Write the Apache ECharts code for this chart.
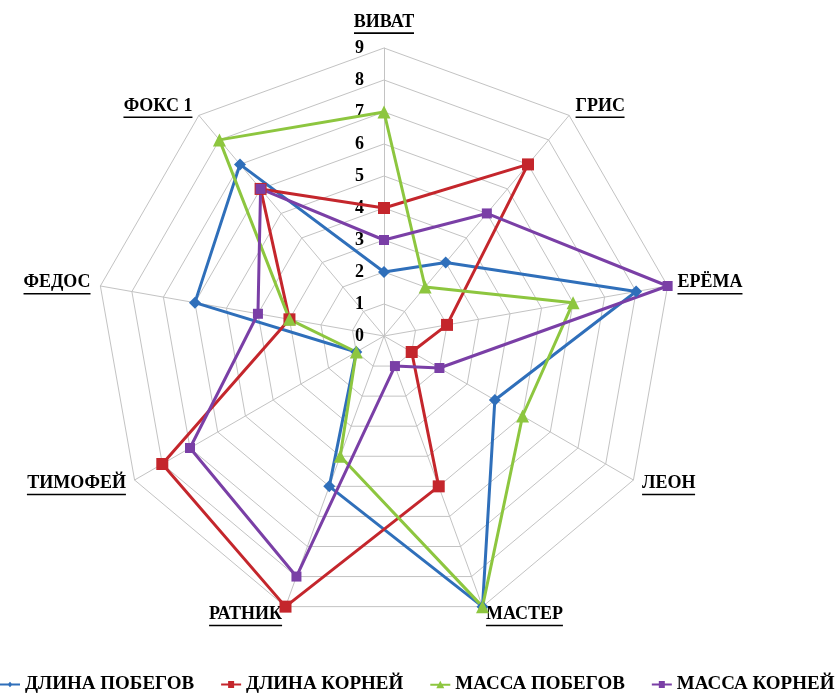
<!DOCTYPE html>
<html>
<head>
<meta charset="utf-8">
<script src="https://cdn.jsdelivr.net/npm/echarts@6/dist/echarts.min.js"></script>
<style>
  html, body { margin: 0; padding: 0; background: #fff; }
  #main { width: 840px; height: 694px; }
</style>
</head>
<body>
<div id="main"></div>
<script>
// сорта (по часовой стрелке от верха)
var categories = ['ВИВАТ', 'ГРИС', 'ЕРЁМА', 'ЛЕОН', 'МАСТЕР', 'РАТНИК', 'ТИМОФЕЙ', 'ФЕДОС', 'ФОКС 1'];
var tickLabels = ['0', '1', '2', '3', '4', '5', '6', '7', '8', '9'];
var seriesNames = ['ДЛИНА ПОБЕГОВ', 'ДЛИНА КОРНЕЙ', 'МАССА ПОБЕГОВ', 'МАССА КОРНЕЙ'];
var shootLength = [2, 3, 8, 4, 9, 5, 1, 6, 7];
var rootLength  = [4, 7, 2, 1, 5, 9, 8, 3, 6];
var shootMass   = [7, 2, 6, 5, 9, 4, 1, 3, 8];
var rootMass    = [3, 5, 9, 2, 1, 8, 7, 4, 6];

var colors = ['#2f6fba', '#c4262c', '#8dc63f', '#7a3fa6'];
var FONT = '"Liberation Serif", "Times New Roman", serif';

// echarts radar идет против часовой стрелки — разворачиваем порядок
var order = [0];
for (var k = categories.length - 1; k > 0; k--) order.push(k);
function reorder(arr) { return order.map(function (i) { return arr[i]; }); }

// ширина подчеркивания для подписей
var cnv = document.createElement('canvas').getContext('2d');
cnv.font = 'bold 18px ' + FONT;
var rich = { n: { fontFamily: FONT, fontWeight: 'bold', fontSize: 18, color: '#000', lineHeight: 19 } };
categories.forEach(function (c, i) {
  rich['u' + i] = { width: Math.round(cnv.measureText(c).width), height: 1.6, lineHeight: 3, backgroundColor: '#000' };
});

var icons = [
  'path://M0,4H8.4L10,2.2L11.6,4H20V6H11.6L10,7.8L8.4,6H0Z',
  'path://M0,4H7V1.5H13V4H20V6H13V8.5H7V6H0Z',
  'path://M0,4H8.4L10,1L11.6,4H20V6H12.67L14,8.5H6L7.33,6H0Z',
  'path://M0,4H7V1.5H13V4H20V6H13V8.5H7V6H0Z'
];

var chart = echarts.init(document.getElementById('main'));
chart.setOption({
  animation: false,
  backgroundColor: '#fff',
  legend: {
    left: 0,
    top: 675,
    padding: 0,
    itemWidth: 20,
    itemHeight: 10,
    itemGap: 27,
    textStyle: { fontFamily: FONT, fontWeight: 'bold', fontSize: 19, color: '#000' },
    data: seriesNames.map(function (n, i) {
      return { name: n, icon: icons[i], itemStyle: { color: colors[i] } };
    })
  },
  radar: {
    center: [384, 336],
    radius: 288,
    startAngle: 90,
    shape: 'polygon',
    splitNumber: 9,
    nameGap: 10,
    indicator: reorder(categories).map(function (c, i) {
      return { name: c, min: 0, max: 9, axisLabel: { show: i === 0 } };
    }),
    axisName: {
      formatter: function (name) {
        return '{n|' + name + '}\n{u' + categories.indexOf(name) + '|}';
      },
      rich: rich
    },
    axisLabel: {
      show: false,
      margin: 20,
      fontFamily: FONT,
      fontWeight: 'bold',
      fontSize: 18,
      color: '#000',
      formatter: function (v) { return tickLabels[Math.round(v)]; }
    },
    axisLine: { lineStyle: { color: '#c3c3c3', width: 1 } },
    splitLine: { lineStyle: { color: '#c3c3c3', width: 1 } },
    splitArea: { show: false }
  },
  series: [{
    type: 'radar',
    data: [
      { name: seriesNames[0], value: reorder(shootLength), symbol: 'diamond', symbolSize: 12 },
      { name: seriesNames[1], value: reorder(rootLength), symbol: 'rect', symbolSize: 12 },
      { name: seriesNames[2], value: reorder(shootMass), symbol: 'triangle', symbolSize: 13 },
      { name: seriesNames[3], value: reorder(rootMass), symbol: 'rect', symbolSize: 10 }
    ].map(function (d, i) {
      d.itemStyle = { color: colors[i], opacity: 1 };
      d.lineStyle = { color: colors[i], width: 3 };
      return d;
    })
  }]
});
</script>
</body>
</html>
